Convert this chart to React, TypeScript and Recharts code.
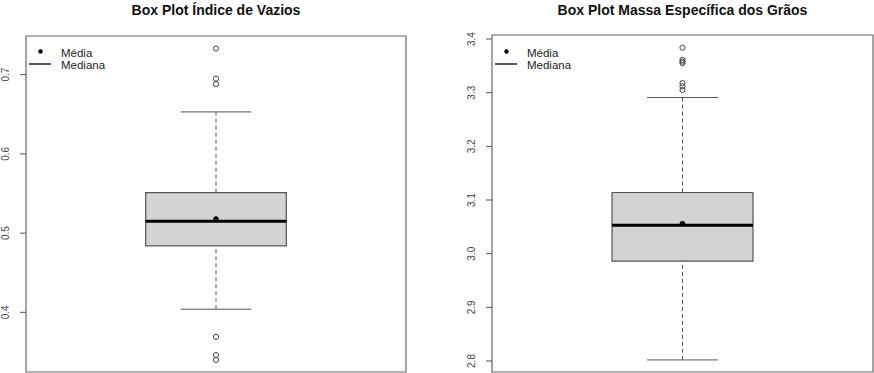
import React from 'react';
import { ComposedChart, XAxis, YAxis, Scatter, ReferenceArea, ReferenceLine, Legend } from 'recharts';

const FONT = '"Liberation Sans", Arial, Helvetica, sans-serif';

// Índice de Vazios: [lower whisker, Q1, median, Q3, upper whisker]
const vaziosBox = [0.404, 0.484, 0.515, 0.551, 0.653];
const vaziosMean = 0.518;
const vaziosOutliers = [0.733, 0.695, 0.688, 0.369, 0.346, 0.34];
const vaziosTicks = [0.4, 0.5, 0.6, 0.7];
const vaziosDomain = [0.3247, 0.7488];

// Massa Específica dos Grãos
const massaBox = [2.802, 2.986, 3.053, 3.114, 3.291];
const massaMean = 3.056;
const massaOutliers = [3.384, 3.361, 3.358, 3.355, 3.318, 3.312, 3.305];
const massaTicks = [2.8, 2.9, 3.0, 3.1, 3.2, 3.3, 3.4];
const massaDomain = [2.7795, 3.4075];

const legendLabels = ['Média', 'Mediana'];

const CENTER = 0.5;
const BOX_HALF = 0.185;
const STAPLE_HALF = 0.093;

const RotTick = (p: any) => (
  <text
    x={p.x}
    y={p.y}
    transform={`rotate(-90, ${p.x}, ${p.y})`}
    textAnchor="middle"
    fontSize={10}
    fill="#444"
    fontFamily={FONT}
  >
    {Number(p.payload.value).toFixed(1)}
  </text>
);

const OpenCircle = (p: any) => (
  <circle cx={p.cx} cy={p.cy} r={2.6} fill="none" stroke="#444" strokeWidth={1} />
);
const FilledCircle = (p: any) => <circle cx={p.cx} cy={p.cy} r={2.7} fill="#000" />;

const LegendBox = () => (
  <svg width={120} height={34} style={{ display: 'block' }}>
    <circle cx={14.5} cy={7.5} r={2.2} fill="#000" />
    <text x={35} y={12.5} fontSize={11.5} fontFamily={FONT} fill="#222">{legendLabels[0]}</text>
    <line x1={3} x2={25} y1={20} y2={20} stroke="#111" strokeWidth={1.4} />
    <text x={35} y={25} fontSize={11.5} fontFamily={FONT} fill="#222">{legendLabels[1]}</text>
  </svg>
);

function BoxPanel(props: any) {
  const { title, box, mean, outliers, ticks, domain, left, yWidth, margin } = props;
  const [lo, q1, med, q3, hi] = box;
  const plotLeft = yWidth + margin.left;
  const plotRight = 437 - margin.right;
  const center = (plotLeft + plotRight) / 2;
  return (
    <div style={{ position: 'absolute', left, top: 0, width: 437, height: 373 }}>
      <div
        style={{
          position: 'absolute',
          left: center - 200,
          width: 400,
          top: 2,
          textAlign: 'center',
          fontFamily: FONT,
          fontWeight: 'bold',
          fontSize: 14,
          lineHeight: '16px',
          color: '#111',
        }}
      >
        {title}
      </div>
      <ComposedChart width={437} height={373} margin={margin}>
        <XAxis dataKey="x" type="number" domain={[0, 1]} hide />
        <YAxis
          type="number"
          dataKey="y"
          width={yWidth}
          domain={domain}
          ticks={ticks}
          allowDataOverflow
          axisLine={false}
          tickLine={{ stroke: '#555' }}
          tickSize={6}
          tickMargin={11}
          tick={RotTick}
          interval={0}
        />
        <ReferenceArea x1={0} x2={1} y1={domain[0]} y2={domain[1]} fill="none" stroke="#666" strokeWidth={1.2} ifOverflow="visible" />
        <ReferenceLine segment={[{ x: CENTER, y: q3 }, { x: CENTER, y: hi }]} stroke="#555" strokeDasharray="4 3" />
        <ReferenceLine segment={[{ x: CENTER, y: lo }, { x: CENTER, y: q1 }]} stroke="#555" strokeDasharray="4 3" />
        <ReferenceLine segment={[{ x: CENTER - STAPLE_HALF, y: hi }, { x: CENTER + STAPLE_HALF, y: hi }]} stroke="#555" />
        <ReferenceLine segment={[{ x: CENTER - STAPLE_HALF, y: lo }, { x: CENTER + STAPLE_HALF, y: lo }]} stroke="#555" />
        <ReferenceArea x1={CENTER - BOX_HALF} x2={CENTER + BOX_HALF} y1={q1} y2={q3} fill="#d3d3d3" fillOpacity={1} stroke="#555" strokeWidth={1.2} />
        <ReferenceLine segment={[{ x: CENTER - BOX_HALF, y: med }, { x: CENTER + BOX_HALF, y: med }]} stroke="#000" strokeWidth={3} />
        <Scatter
          data={outliers.map((v: number) => ({ x: CENTER, y: v }))}
          dataKey="y"
          shape={OpenCircle}
          isAnimationActive={false}
          name="Outliers"
        />
        <Scatter
          data={[{ x: CENTER, y: mean }]}
          dataKey="y"
          shape={FilledCircle}
          isAnimationActive={false}
          name={legendLabels[0]}
        />
        <Legend
          layout="vertical"
          align="center"
          verticalAlign="middle"
          content={LegendBox}
          wrapperStyle={{ position: 'absolute', left: plotLeft, top: 44, width: 120, height: 34 }}
        />
      </ComposedChart>
    </div>
  );
}

export default function App() {
  return (
    <div style={{ position: 'absolute', left: 0, top: 0, width: 874, height: 373, background: '#fff' }}>
      <BoxPanel
        title="Box Plot Índice de Vazios"
        box={vaziosBox}
        mean={vaziosMean}
        outliers={vaziosOutliers}
        ticks={vaziosTicks}
        domain={vaziosDomain}
        left={0}
        yWidth={26}
        margin={{ top: 36, right: 31, bottom: 1, left: 0 }}
      />
      <BoxPanel
        title="Box Plot Massa Específica dos Grãos"
        box={massaBox}
        mean={massaMean}
        outliers={massaOutliers}
        ticks={massaTicks}
        domain={massaDomain}
        left={437}
        yWidth={55}
        margin={{ top: 35, right: 1, bottom: 1, left: 0 }}
      />
    </div>
  );
}
